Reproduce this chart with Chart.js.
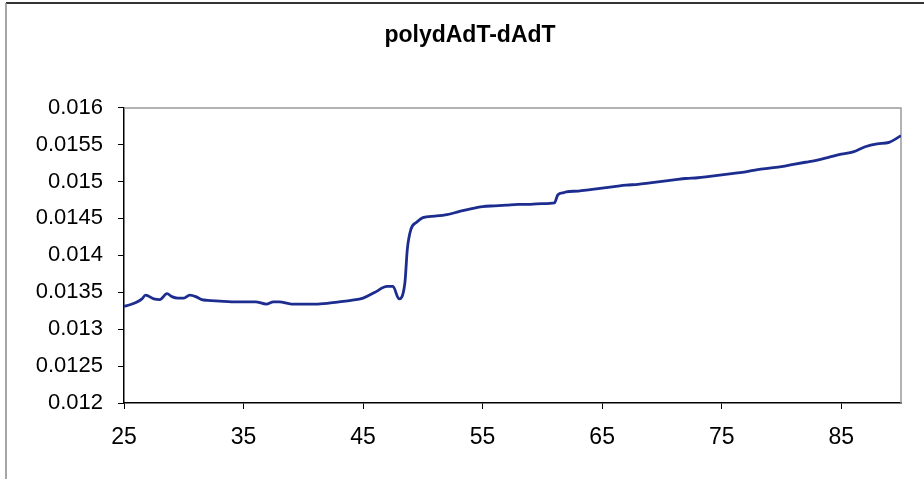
<!DOCTYPE html>
<html>
<head>
<meta charset="utf-8">
<script src="https://cdn.jsdelivr.net/npm/chart.js@4/dist/chart.umd.min.js"></script>
<style>
  html, body { margin: 0; padding: 0; background: #fff; }
  #wrap { width: 924px; height: 479px; position: relative; }
</style>
</head>
<body>
<div id="wrap"><canvas id="chart" width="924" height="479"></canvas></div>
<script>
// Temperature values (x) and absorbance readings (y)
const temps = [
  25, 25.5, 26, 26.5, 26.8, 27.5, 28, 28.6, 29, 29.5, 30, 30.5, 31, 31.5, 32, 33,
  34, 35, 36, 36.9, 37.5, 38, 39, 40, 41, 42, 43, 44, 45, 46, 47, 47.5,
  48, 48.5, 48.7, 49, 49.5, 50, 51, 52, 53, 54, 55, 56, 57, 58, 59, 60,
  61, 61.3, 61.8, 62, 63, 64, 65, 66, 67, 68, 69, 70, 71, 72, 73, 74,
  75, 76, 77, 78, 79, 80, 81, 82, 83, 84, 85, 86, 87, 88, 89, 90
];
const absorb = [
  0.01331, 0.01333, 0.01336, 0.01341, 0.01346, 0.01341, 0.01340, 0.01348, 0.01344, 0.01342, 0.01342, 0.01346, 0.01344, 0.01340, 0.01339, 0.01338,
  0.01337, 0.01337, 0.01337, 0.01334, 0.01337, 0.01337, 0.01334, 0.01334, 0.01334, 0.01335, 0.01337, 0.01339, 0.01342, 0.01350, 0.01358, 0.01358,
  0.01341, 0.01363, 0.01408, 0.01435, 0.01445, 0.01451, 0.01453, 0.01455, 0.01459, 0.01463, 0.01466, 0.01467, 0.01468, 0.01469, 0.01469, 0.01470,
  0.01471, 0.01482, 0.01485, 0.01486, 0.01487, 0.01489, 0.01491, 0.01493, 0.01495, 0.01496, 0.01498, 0.01500, 0.01502, 0.01504, 0.01505, 0.01507,
  0.01509, 0.01511, 0.01513, 0.01516, 0.01518, 0.01520, 0.01523, 0.01526, 0.01529, 0.01533, 0.01537, 0.01540, 0.01547, 0.01551, 0.01553, 0.01562
];

const xTicks = [25, 35, 45, 55, 65, 75, 85];
const yTicks = [0.012, 0.0125, 0.013, 0.0135, 0.014, 0.0145, 0.015, 0.0155, 0.016];
const yTickLabels = ['0.012', '0.0125', '0.013', '0.0135', '0.014', '0.0145', '0.015', '0.0155', '0.016'];

const FONT = 'Arial, "Liberation Sans", sans-serif';

// gray box round the plot area plus the outer frame lines
const framePlugin = {
  id: 'frame',
  beforeDatasetsDraw(chart) {
    const { ctx, chartArea: a } = chart;
    ctx.save();
    ctx.strokeStyle = '#9a9a9a';
    ctx.lineWidth = 1.5;
    ctx.beginPath();
    ctx.moveTo(a.left, a.top + 0.5);
    ctx.lineTo(a.right, a.top + 0.5);
    ctx.lineTo(a.right, a.bottom);
    ctx.stroke();
    ctx.restore();
  },
  afterDraw(chart) {
    const ctx = chart.ctx;
    ctx.save();
    ctx.strokeStyle = '#333';
    ctx.lineWidth = 2;
    ctx.beginPath();
    ctx.moveTo(6, 3);
    ctx.lineTo(924, 3);
    ctx.stroke();
    ctx.strokeStyle = '#888';
    ctx.lineWidth = 1.5;
    ctx.beginPath();
    ctx.moveTo(6, 3);
    ctx.lineTo(6, 479);
    ctx.stroke();
    ctx.restore();
  }
};

const ctx = document.getElementById('chart').getContext('2d');
new Chart(ctx, {
  type: 'line',
  data: {
    datasets: [{
      label: 'polydAdT-dAdT',
      data: temps.map((t, i) => ({ x: t, y: absorb[i] })),
      borderColor: '#1c2d8f',
      borderWidth: 2.8,
      pointRadius: 0,
      fill: false,
      cubicInterpolationMode: 'monotone'
    }]
  },
  options: {
    responsive: false,
    animation: false,
    layout: { padding: { left: 16, right: 0, top: 0, bottom: 0 } },
    plugins: {
      legend: { display: false },
      tooltip: { enabled: false },
      title: {
        display: true,
        text: 'polydAdT-dAdT',
        color: '#000',
        font: { family: FONT, size: 23, weight: 'bold' },
        padding: { top: 22, bottom: 58 }
      }
    },
    scales: {
      x: {
        type: 'linear',
        min: 25,
        max: 90,
        afterBuildTicks: (scale) => { scale.ticks = xTicks.map(v => ({ value: v })); },
        afterFit: (scale) => { scale.height = 76; },
        grid: { drawOnChartArea: false, drawTicks: true, tickLength: 6, color: '#000' },
        border: { display: true, color: '#000', width: 1.5 },
        ticks: {
          color: '#000',
          font: { family: FONT, size: 23 },
          padding: 15,
          maxRotation: 0,
          autoSkip: false
        }
      },
      y: {
        type: 'linear',
        min: 0.012,
        max: 0.016,
        afterBuildTicks: (scale) => { scale.ticks = yTicks.map(v => ({ value: v })); },
        afterFit: (scale) => { scale.width = 108; },
        grid: { drawOnChartArea: false, drawTicks: true, tickLength: 6, color: '#000' },
        border: { display: true, color: '#000', width: 1.5 },
        ticks: {
          color: '#000',
          font: { family: FONT, size: 22 },
          padding: 15,
          autoSkip: false,
          callback: (value, index) => yTickLabels[index]
        }
      },
      // empty right-hand axis, only keeps the margin right of the plot
      yRight: {
        type: 'linear',
        position: 'right',
        display: true,
        afterFit: (scale) => { scale.width = 23; },
        grid: { display: false },
        border: { display: false },
        ticks: { display: false }
      }
    }
  },
  plugins: [framePlugin]
});
</script>
</body>
</html>
